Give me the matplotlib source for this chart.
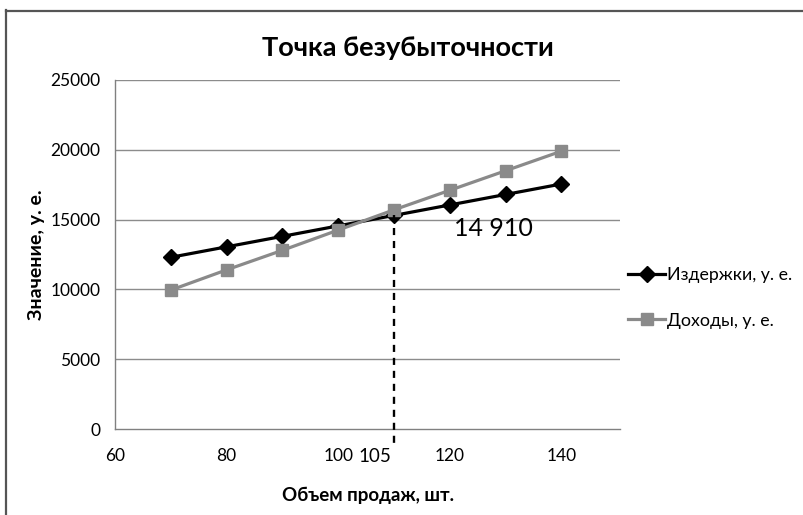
import matplotlib
matplotlib.use("Agg")
import matplotlib.pyplot as plt
from matplotlib.lines import Line2D

plt.rcParams['font.family'] = ['Lato', 'DejaVu Sans']

# data
volume = [70, 80, 90, 100, 110, 120, 130, 140]
costs = [12300, 13050, 13800, 14550, 15300, 16050, 16800, 17550]
revenue = [9950, 11400, 12800, 14250, 15700, 17100, 18500, 19900]
x_ticks = [60, 80, 100, 120, 140]
y_ticks = [0, 5000, 10000, 15000, 20000, 25000]
be_line_x = 110          # where the dashed marker line was drawn
be_label_x = "105"
be_label_y = "14 910"

fig = plt.figure(figsize=(8.04, 5.15), dpi=100)
ax = fig.add_axes([115/804, 1 - 429/515, (620 - 115)/804, (429 - 80)/515])

grid_c = '#8c8c8c'
for v in y_ticks[1:]:
    ax.axhline(v, color=grid_c, lw=1.0, zorder=1)

ax.plot(volume, costs, color='black', lw=2.3, marker='D', markersize=8.5,
        label='Издержки, у. е.', zorder=3)
ax.plot(volume, revenue, color='#8a8a8a', lw=2.3, marker='s', markersize=9,
        label='Доходы, у. е.', zorder=4)

# dashed line from the curve down past the axis
ax.plot([be_line_x, be_line_x], [costs[volume.index(be_line_x)], -1300],
        color='black', lw=1.7, ls=(0, (3, 2.5)), clip_on=False, zorder=5)

ax.set_xlim(60, 150.5)
ax.set_ylim(0, 25000)
ax.set_xticks(x_ticks)
ax.set_yticks(y_ticks)
ax.tick_params(length=0, labelsize=12.5, colors='black')
ax.tick_params(axis='y', pad=10.5)
ax.tick_params(axis='x', pad=14)

for s in ['top', 'right']:
    ax.spines[s].set_visible(False)
for s in ['left', 'bottom']:
    ax.spines[s].set_color('#808080')
    ax.spines[s].set_linewidth(1.0)

ax.set_xlabel('Объем продаж, шт.', fontsize=13.5, fontweight='bold', labelpad=16)
ax.set_ylabel('Значение, у. е.', fontsize=14, fontweight='bold', labelpad=4)

fig.text(408/804, 1 - 48/515, 'Точка безубыточности', fontsize=19.5,
         fontweight='bold', ha='center', va='center')

ax.text(375/804, 1 - 457/515, be_label_x, transform=fig.transFigure,
        fontsize=13.5, ha='center', va='center')
ax.text(493/804, 1 - 228/515, be_label_y, transform=fig.transFigure,
        fontsize=18, ha='center', va='center')

leg = ax.legend(loc='center left', bbox_to_anchor=(628/804, 1 - 298/515),
                bbox_transform=fig.transFigure, frameon=False, fontsize=12.8,
                handlelength=2.1, handletextpad=0.1, labelspacing=1.65,
                borderpad=0, borderaxespad=0)

# chart-area border (left and top edges visible)
fig.add_artist(Line2D([6.5/804, 6.5/804], [0, 1 - 10/515], color='#555555',
                      lw=1.6, transform=fig.transFigure))
fig.add_artist(Line2D([6.5/804, 1], [1 - 10.5/515, 1 - 10.5/515],
                      color='#555555', lw=1.6, transform=fig.transFigure))

fig.savefig('out.png', dpi=100)
